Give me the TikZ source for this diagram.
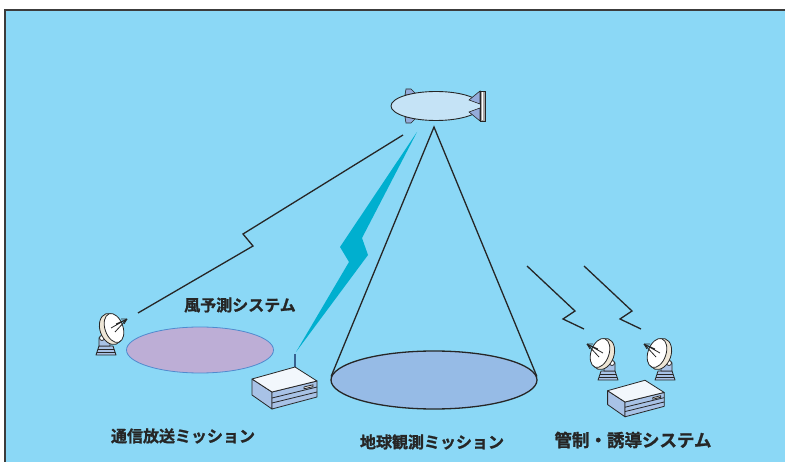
\documentclass[tikz,border=0pt]{standalone}
\usepackage{fontspec}
\usepackage{tikz}
\usetikzlibrary{shapes.geometric}
\setmainfont{Noto Sans CJK JP}[BoldFont={Noto Sans CJK JP Bold}, BoldFeatures={FakeBold=1.2}]

\definecolor{sky}{RGB}{139,216,246}
\definecolor{lavender}{RGB}{189,174,214}
\definecolor{lavedge}{RGB}{80,138,206}
\definecolor{ground}{RGB}{150,187,230}
\definecolor{bolt}{RGB}{0,175,207}
\definecolor{devtop}{RGB}{242,247,252}
\definecolor{devside}{RGB}{168,194,230}
\definecolor{dishback}{RGB}{238,230,214}
\definecolor{fin}{RGB}{148,171,218}
\definecolor{hull}{RGB}{197,227,246}
\definecolor{ink}{RGB}{38,38,38}

\tikzset{
  link/.style={line width=1.3pt, draw=ink},
  edge/.style={draw=ink, line width=0.8pt, line join=round},
  caption/.style={font=\fontsize{16}{16}\selectfont\bfseries, text=ink, inner sep=0pt},
  dish/.pic={
    % pedestal
    \draw[edge, fill=devside] (-10,0) -- (10,0) -- (7,-9) -- (-7,-9) -- cycle;
    \draw[edge] (-9,-3) -- (9,-3) (-8,-6) -- (8,-6);
    % mount
    \draw[edge, fill=devside] (-4,-9) -- (7,-9) -- (7,-17) -- (3,-21) -- (-4,-19) -- cycle;
    \draw[edge, fill=white] (4,-17) circle (2.5pt);
    % reflector
    \draw[edge, fill=dishback, rotate around={71:(-5,-26)}] (-5,-26) ellipse [x radius=16pt, y radius=11pt];
    \draw[edge, fill=white, rotate around={71:(-8,-27)}] (-8,-27) ellipse [x radius=15pt, y radius=9pt];
    % feed
    \draw[edge] (-21,-36) -- (-10,-31) (-21,-36) -- (-5,-27) (-21,-36) -- (-9,-23);
    \draw[edge] (-21,-36) -- (-15,-36) (-21,-36) -- (-18,-31);
  },
  device/.pic={
    \draw[edge, fill=devside] (0,0) -- (-20,-13) -- (-20,3) -- (0,17) -- cycle;
    \draw[edge, fill=devside] (0,0) -- (45,-11) -- (45,5) -- (0,17) -- cycle;
    \draw[edge] (0,6) -- (45,-5) (0,11) -- (45,0);
    \draw[edge, fill=devtop] (0,0) -- (-20,-13) -- (23,-25) -- (45,-11) -- cycle;
    \draw[edge, fill=white] (32,-5) -- (41,-7.2) -- (41,-5.4) -- (32,-3.2) -- cycle;
  }
}

\begin{document}
\begin{tikzpicture}[x=1pt, y=-1pt]
  \useasboundingbox (0,0) rectangle (785,462);
  \clip (0,0) rectangle (785,462);
  \fill[white] (0,0) rectangle (785,462);
  \draw[fill=sky, draw=ink!90, line width=2pt] (5,10) rectangle (800,480);

  % mission areas on the ground
  \node[ellipse, fill=lavender, draw=lavedge, line width=0.8pt,
        minimum width=147pt, minimum height=46pt, inner sep=0pt] (wind area) at (200,350) {};
  \node[ellipse, fill=ground, draw=ink, line width=1.3pt,
        minimum width=206pt, minimum height=58pt, inner sep=0pt] (obs area) at (434,380) {};

  % airship
  \fill[fin, draw=ink, line width=0.6pt] (405,95) -- (406,89) -- (411,89) -- (417,95) -- cycle;
  \fill[fin, draw=ink, line width=0.6pt] (405,117) -- (406,123) -- (411,123) -- (417,117) -- cycle;
  \node[ellipse, fill=hull, draw=ink, line width=0.9pt,
        minimum width=90pt, minimum height=29pt, inner sep=0pt] (blimp) at (436,106) {};
  \fill[fin, draw=ink, line width=0.6pt] (469,100) -- (480,91) -- (480,104) -- cycle;
  \fill[fin, draw=ink, line width=0.6pt] (469,112) -- (480,121) -- (480,108) -- cycle;
  \draw[fill=black!35, draw=ink, line width=0.6pt] (480,91) rectangle (485,121);
  \fill[white] (481.5,92) rectangle (483,120);

  \coordinate (apex) at (434,127);
  \coordinate (air) at (403,135);
  \coordinate (ant) at (296,352);

  % observation cone
  \draw[link] (obs area.178) -- (apex) -- (obs area.2);

  % radio link to the broadcast terminal
  \fill[bolt] (417,132) -- (362,238) -- (368,255) -- (ant) -- (349,262) -- (340,247) -- cycle;

  % ground equipment
  \pic at (106,355) [xscale=-1] {dish};
  \pic at (608,380) {dish};
  \pic at (665,380) {dish};
  \draw[draw=lavedge!70!black, line width=2pt] (295,354) -- (295,369);
  \pic at (272,392) {device};
  \pic[scale=0.87] at (625,402) {device};

  \coordinate (dish1) at (138,313);
  \coordinate (dish2) at (584,329);
  \coordinate (dish3) at (641,329);

  % telemetry links
  \draw[link] (dish1) -- (253,246) -- (243,234) -- (air);
  \draw[link] (527,266) -- (575,311) -- (563,319) -- (dish2);
  \draw[link] (584,266) -- (632,311) -- (620,319) -- (dish3);

  % captions
  \node[caption] (wind) at (240,305) {風予測システム};
  \node[caption] (comm) at (183,436) {通信放送ミッション};
  \node[caption] (obs) at (432,442) {地球観測ミッション};
  \node[caption, font=\fontsize{17.5}{17.5}\selectfont\bfseries] (ctrl) at (633,440) {管制・誘導システム};
\end{tikzpicture}
\end{document}
